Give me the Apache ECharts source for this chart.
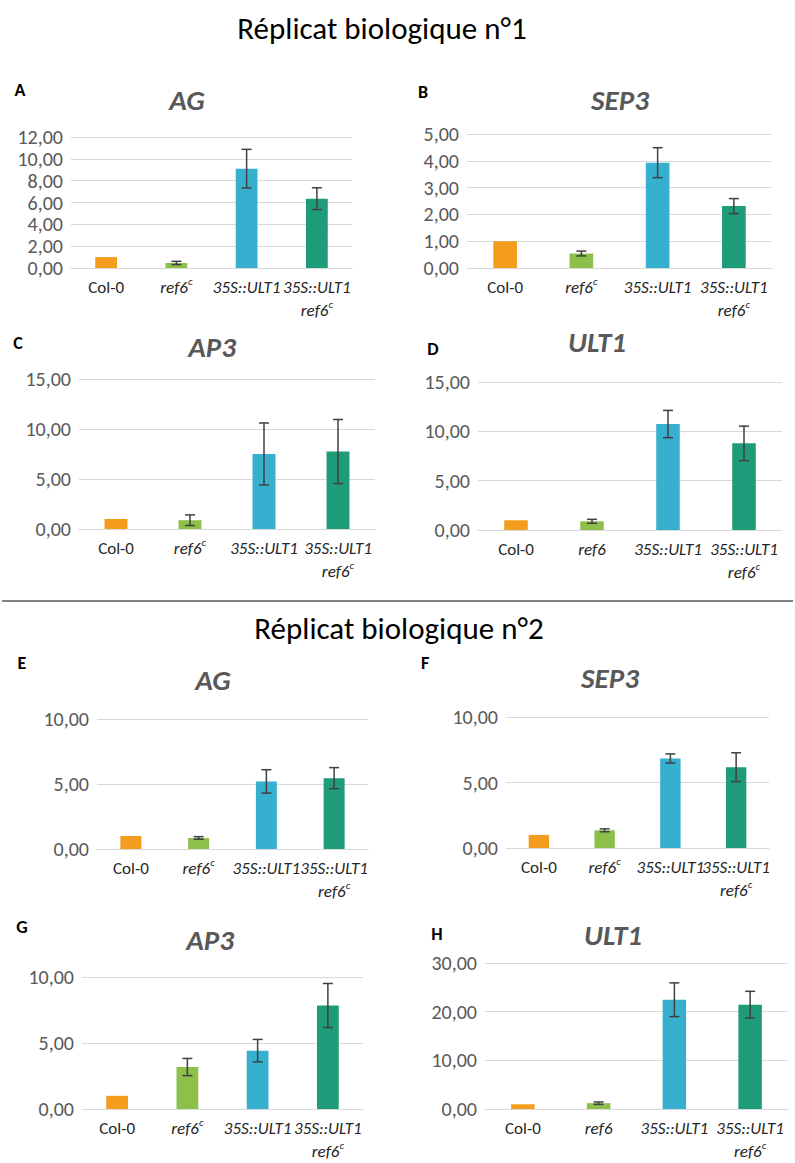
<!DOCTYPE html>
<html>
<head>
<meta charset="utf-8">
<script src="https://cdn.jsdelivr.net/npm/echarts@6/dist/echarts.min.js"></script>
<style>
  html, body { margin: 0; padding: 0; background: #fff; }
  #chart { width: 795px; height: 1163px; }
</style>
</head>
<body>
<div id="chart"></div>
<script>
// categories (second one differs in D and H)
const genotypes = ['Col-0', 'ref6c', '35S::ULT1', '35S::ULT1 ref6c']
const genotypesNoC = ['Col-0', 'ref6', '35S::ULT1', '35S::ULT1 ref6c']
const barColors = ['#F39C1E', '#8CC04A', '#37AFCE', '#1E9B78']

// replicate 1
const agR1 = [1.00, 0.46, 9.10, 6.35]
const agR1Err = [0, 0.15, 1.77, 1.00]
const sep3R1 = [1.00, 0.54, 3.93, 2.31]
const sep3R1Err = [0, 0.09, 0.56, 0.28]
const ap3R1 = [1.00, 0.88, 7.50, 7.75]
const ap3R1Err = [0, 0.53, 3.10, 3.20]
const ult1R1 = [1.00, 0.88, 10.74, 8.78]
const ult1R1Err = [0, 0.20, 1.38, 1.75]

// replicate 2
const agR2 = [1.00, 0.85, 5.20, 5.45]
const agR2Err = [0, 0.10, 0.90, 0.81]
const sep3R2 = [1.00, 1.35, 6.83, 6.17]
const sep3R2Err = [0, 0.11, 0.35, 1.10]
const ap3R2 = [1.00, 3.18, 4.42, 7.84]
const ap3R2Err = [0, 0.65, 0.85, 1.67]
const ult1R2 = [1.00, 1.20, 22.45, 21.44]
const ult1R2Err = [0, 0.25, 3.47, 2.74]

const FONT = 'Carlito, Lato, "Open Sans", sans-serif'

const panels = [
    {letter: 'A', gene: 'AG', cats: genotypes, vals: agR1, errs: agR1Err, max: 12, step: 2,
        grid: {left: 71, top: 137, width: 281, height: 131}, title: [187, 100], tag: [20, 90]},
    {letter: 'B', gene: 'SEP3', cats: genotypes, vals: sep3R1, errs: sep3R1Err, max: 5, step: 1,
        grid: {left: 467, top: 134, width: 305, height: 134}, title: [620, 100], tag: [423, 92]},
    {letter: 'C', gene: 'AP3', cats: genotypes, vals: ap3R1, errs: ap3R1Err, max: 15, step: 5,
        grid: {left: 79, top: 379, width: 296, height: 150}, title: [212, 347], tag: [18, 343]},
    {letter: 'D', gene: 'ULT1', cats: genotypesNoC, vals: ult1R1, errs: ult1R1Err, max: 15, step: 5,
        grid: {left: 478, top: 382, width: 304, height: 148}, title: [597, 342], tag: [433, 349]},
    {letter: 'E', gene: 'AG', cats: genotypes, vals: agR2, errs: agR2Err, max: 10, step: 5,
        grid: {left: 97, top: 719, width: 271, height: 130}, title: [213, 680], tag: [22, 663]},
    {letter: 'F', gene: 'SEP3', cats: genotypes, vals: sep3R2, errs: sep3R2Err, max: 10, step: 5,
        grid: {left: 506, top: 717, width: 263, height: 131}, title: [610, 678], tag: [425, 663]},
    {letter: 'G', gene: 'AP3', cats: genotypes, vals: ap3R2, errs: ap3R2Err, max: 10, step: 5,
        grid: {left: 82, top: 977, width: 281, height: 140}, title: [210, 940], tag: [22, 927]},
    {letter: 'H', gene: 'ULT1', cats: genotypesNoC, vals: ult1R2, errs: ult1R2Err, max: 30, step: 10,
        grid: {left: 485, top: 963, width: 303, height: 149}, title: [613, 935], tag: [437, 934]},
]

function catLabel(name) {
    if (name === 'Col-0') return '{n|Col-0}'
    if (name === 'ref6c') return '{i|ref6}{s|c}'
    if (name === 'ref6') return '{i|ref6}'
    if (name === '35S::ULT1') return '{i|35S::ULT1}'
    return '{i|35S::ULT1}\n{i|ref6}{s|c}'
}

function renderErr(params, api) {
    const e = api.value(2)
    if (!e) return null
    const x = api.value(0)
    const v = api.value(1)
    const hi = api.coord([x, v + e])
    const lo = api.coord([x, v - e])
    const hw = 5
    const st = {stroke: '#404040', lineWidth: 1.5}
    return {
        type: 'group',
        children: [
            {type: 'line', shape: {x1: hi[0], y1: hi[1], x2: lo[0], y2: lo[1]}, style: st},
            {type: 'line', shape: {x1: hi[0] - hw, y1: hi[1], x2: hi[0] + hw, y2: hi[1]}, style: st},
            {type: 'line', shape: {x1: lo[0] - hw, y1: lo[1], x2: lo[0] + hw, y2: lo[1]}, style: st}
        ]
    }
}

const grids = []
const xAxes = []
const yAxes = []
const series = []
const graphics = []

panels.forEach((p, i) => {
    grids.push(p.grid)
    xAxes.push({
        type: 'category',
        gridIndex: i,
        data: p.cats,
        axisTick: {show: false},
        axisLine: {lineStyle: {color: '#d9d9d9', width: 1}},
        axisLabel: {
            interval: 0,
            margin: 8,
            formatter: catLabel,
            lineHeight: 23,
            rich: {
                n: {fontFamily: FONT, fontSize: 17, color: '#262626', lineHeight: 23},
                i: {fontFamily: FONT, fontSize: 17, fontStyle: 'italic', color: '#262626', lineHeight: 23},
                s: {fontFamily: FONT, fontSize: 11, fontStyle: 'italic', color: '#262626', verticalAlign: 'top', lineHeight: 23}
            }
        }
    })
    yAxes.push({
        type: 'value',
        gridIndex: i,
        min: 0,
        max: p.max,
        interval: p.step,
        axisLine: {show: false},
        axisTick: {show: false},
        splitLine: {lineStyle: {color: '#d9d9d9', width: 1}},
        axisLabel: {
            margin: 8,
            fontFamily: FONT,
            fontSize: 20,
            color: '#595959',
            formatter: v => v.toFixed(2).replace('.', ',')
        }
    })
    series.push({
        type: 'bar',
        xAxisIndex: i,
        yAxisIndex: i,
        barWidth: '31%',
        data: p.vals.map((v, k) => ({value: v, itemStyle: {color: barColors[k]}}))
    })
    series.push({
        type: 'custom',
        xAxisIndex: i,
        yAxisIndex: i,
        z: 5,
        renderItem: renderErr,
        encode: {x: 0, y: 1},
        data: p.vals.map((v, k) => [k, v, p.errs[k]])
    })
    graphics.push({
        type: 'text', x: p.title[0], y: p.title[1],
        style: {text: p.gene, fontFamily: FONT, fontSize: 29, fontWeight: 'bold', fontStyle: 'italic',
            fill: '#595959', textAlign: 'center', textVerticalAlign: 'middle'}
    })
    graphics.push({
        type: 'text', x: p.tag[0], y: p.tag[1],
        style: {text: p.letter, fontFamily: FONT, fontSize: 18, fontWeight: 'bold',
            fill: '#000', textAlign: 'center', textVerticalAlign: 'middle'}
    })
})

graphics.push({
    type: 'text', x: 382, y: 28,
    style: {text: 'Réplicat biologique n°1', fontFamily: FONT, fontSize: 31,
        fill: '#000', textAlign: 'center', textVerticalAlign: 'middle'}
})
graphics.push({
    type: 'text', x: 399, y: 628,
    style: {text: 'Réplicat biologique n°2', fontFamily: FONT, fontSize: 31,
        fill: '#000', textAlign: 'center', textVerticalAlign: 'middle'}
})
graphics.push({
    type: 'line',
    shape: {x1: 2, y1: 601, x2: 793, y2: 601},
    style: {stroke: '#595959', lineWidth: 1.5}
})

const chart = echarts.init(document.getElementById('chart'), null, {renderer: 'svg'})
chart.setOption({
    animation: false,
    backgroundColor: '#fff',
    grid: grids,
    xAxis: xAxes,
    yAxis: yAxes,
    series: series,
    graphic: graphics
})
</script>
</body>
</html>
